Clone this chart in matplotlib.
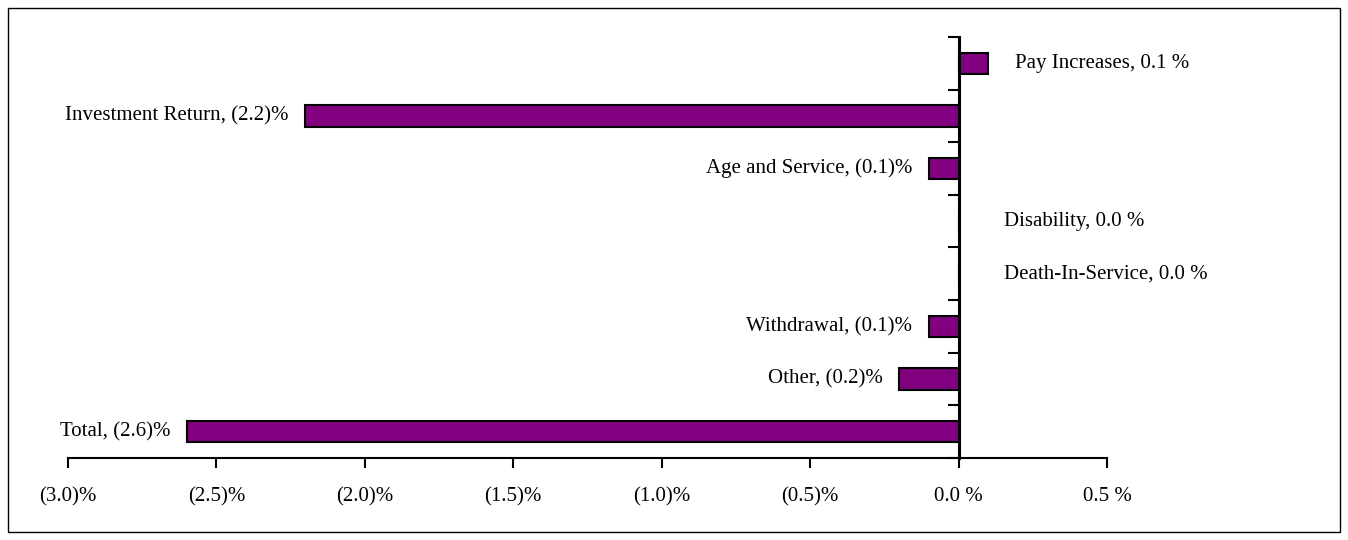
import matplotlib
matplotlib.use("Agg")
import matplotlib.pyplot as plt
from matplotlib.patches import Rectangle
from matplotlib.ticker import FuncFormatter, FixedLocator, NullFormatter

categories = ["Pay Increases", "Investment Return", "Age and Service", "Disability",
              "Death-In-Service", "Withdrawal", "Other", "Total"]
values = [0.1, -2.2, -0.1, 0.0, 0.0, -0.1, -0.2, -2.6]
x_ticks = [-3.0, -2.5, -2.0, -1.5, -1.0, -0.5, 0.0, 0.5]

plt.rcParams['font.family'] = ['Liberation Serif', 'DejaVu Serif']

def fmt(v):
    if v < 0:
        return "({:.1f})%".format(abs(v))
    return "{:.1f} %".format(v)

FS = 15

fig = plt.figure(figsize=(13.48, 5.4), dpi=100)
fig.patches.append(Rectangle((8 / 1348, 8 / 540), 1332 / 1348, 524 / 540,
                             transform=fig.transFigure, fill=False,
                             edgecolor='black', linewidth=1.0))
ax = fig.add_axes([68 / 1348, 82 / 540, 1039 / 1348, 421 / 540])

ypos = list(range(len(categories)))
ax.barh(ypos, values, height=0.41, color='#800080', edgecolor='black', linewidth=1.5, zorder=2)

ax.set_xlim(-3.0, 0.5)
ax.set_ylim(len(categories) - 0.5, -0.5)

for y, v, c in zip(ypos, values, categories):
    txt = "{}, {}".format(c, fmt(v))
    if v < 0:
        ax.annotate(txt, xy=(v, y), xytext=(-12, 0), textcoords='offset points',
                    ha='right', va='center', fontsize=FS)
    elif v > 0:
        ax.annotate(txt, xy=(v, y), xytext=(19, 0), textcoords='offset points',
                    ha='left', va='center', fontsize=FS)
    else:
        ax.annotate(txt, xy=(v, y), xytext=(33, 0), textcoords='offset points',
                    ha='left', va='center', fontsize=FS)

ax.spines['top'].set_visible(False)
ax.spines['right'].set_visible(False)
ax.spines['left'].set_position(('data', 0))
ax.spines['left'].set_linewidth(2.2)
ax.spines['bottom'].set_linewidth(1.5)

ax.set_xticks(x_ticks)
ax.xaxis.set_major_formatter(FuncFormatter(lambda v, p: fmt(v)))
ax.tick_params(axis='x', direction='out', length=7, width=1.5, labelsize=FS, pad=14)

ax.set_yticks([])
ax.yaxis.set_minor_locator(FixedLocator([i - 0.5 for i in range(len(categories) + 1)]))
ax.yaxis.set_minor_formatter(NullFormatter())
ax.tick_params(axis='y', which='minor', direction='out', length=8, width=1.5)

fig.savefig("out.png", dpi=100)
